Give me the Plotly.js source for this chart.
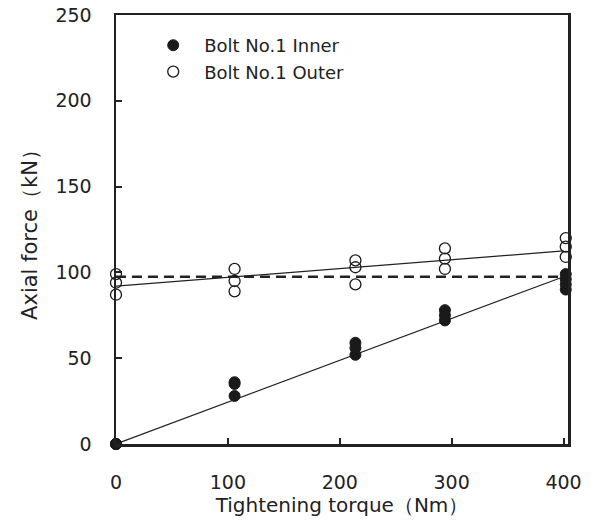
<!DOCTYPE html>
<html>
<head>
<meta charset="utf-8">
<script src="https://cdn.plot.ly/plotly-3.0.1.min.js"></script>
<style>html,body{margin:0;padding:0;background:#fff}#chart{width:595px;height:524px}</style>
</head>
<body>
<div id="chart"></div>
<script>
// Measured points (torque in Nm, axial force in kN)
const innerTorque = [0, 0, 0, 106, 106, 106, 214, 214, 214, 294, 294, 294, 402, 402, 402, 402];
const innerForce  = [0, 0, 0, 36, 35, 28, 59, 56, 52, 78, 75, 72, 99, 96, 93, 90];
const outerTorque = [0, 0, 0, 106, 106, 106, 214, 214, 214, 294, 294, 294, 402, 402, 402];
const outerForce  = [99, 94, 87, 102, 95, 89, 107, 103, 93, 114, 108, 102, 120, 115, 109];
// Fitted lines (end points)
const innerFitX = [0, 400];
const innerFitY = [0, 97.5];
const outerFitX = [0, 400];
const outerFitY = [92, 112.5];
// Reference (dashed) level
const refX = [0, 400];
const refY = [97.5, 97.5];

const xTicks = [0, 100, 200, 300, 400];
const yTicks = [0, 50, 100, 150, 200, 250];

const FONT = 'DejaVu Sans, sans-serif';

const traces = [
  {x: refX, y: refY, mode: 'lines', line: {color: '#222', width: 2.5, dash: '10px,6px'}, showlegend: false, hoverinfo: 'skip'},
  {x: innerFitX, y: innerFitY, mode: 'lines', line: {color: '#222', width: 1.2}, showlegend: false, hoverinfo: 'skip'},
  {x: outerFitX, y: outerFitY, mode: 'lines', line: {color: '#222', width: 1.2}, showlegend: false, hoverinfo: 'skip'},
  {x: innerTorque, y: innerForce, mode: 'markers', name: 'Bolt No.1 Inner',
   marker: {symbol: 'circle', size: 11, color: '#1a1a1a', line: {color: '#1a1a1a', width: 1}}, cliponaxis: false},
  {x: outerTorque, y: outerForce, mode: 'markers', name: 'Bolt No.1 Outer',
   marker: {symbol: 'circle-open', size: 11, color: '#1a1a1a', line: {color: '#1a1a1a', width: 1.3}}, cliponaxis: false}
];

const layout = {
  width: 595, height: 524,
  margin: {l: 116, r: 27, t: 15, b: 80},
  paper_bgcolor: '#fff', plot_bgcolor: '#fff',
  font: {family: FONT, size: 19, color: '#222'},
  showlegend: true,
  legend: {x: 0.058, y: 0.972, xanchor: 'left', yanchor: 'top', bgcolor: 'rgba(0,0,0,0)',
           font: {family: FONT, size: 18, color: '#222'}, tracegroupgap: 0, itemwidth: 52},
  xaxis: {
    range: [0, 404], tickvals: xTicks, ticktext: xTicks.map(String),
    ticks: 'inside', ticklen: 6, tickwidth: 2, tickcolor: '#222',
    showline: true, linecolor: '#222', linewidth: 2.5, mirror: true,
    showgrid: false, zeroline: false, ticklabelstandoff: 20,
    tickfont: {family: FONT, size: 19, color: '#222'},
    title: {text: 'Tightening torque（Nm）', font: {family: FONT, size: 20, color: '#222'}, standoff: 6}
  },
  yaxis: {
    range: [0, 250], tickvals: yTicks, ticktext: yTicks.map(String),
    ticks: 'inside', ticklen: 6, tickwidth: 2, tickcolor: '#222',
    showline: true, linecolor: '#222', linewidth: 2.5, mirror: true,
    showgrid: false, zeroline: false, ticklabelstandoff: 18,
    tickfont: {family: FONT, size: 19, color: '#222'},
    title: {text: 'Axial force（kN）', font: {family: FONT, size: 21, color: '#222'}, standoff: 12}
  }
};

Plotly.newPlot('chart', traces, layout, {displayModeBar: false, staticPlot: true});
</script>
</body>
</html>
